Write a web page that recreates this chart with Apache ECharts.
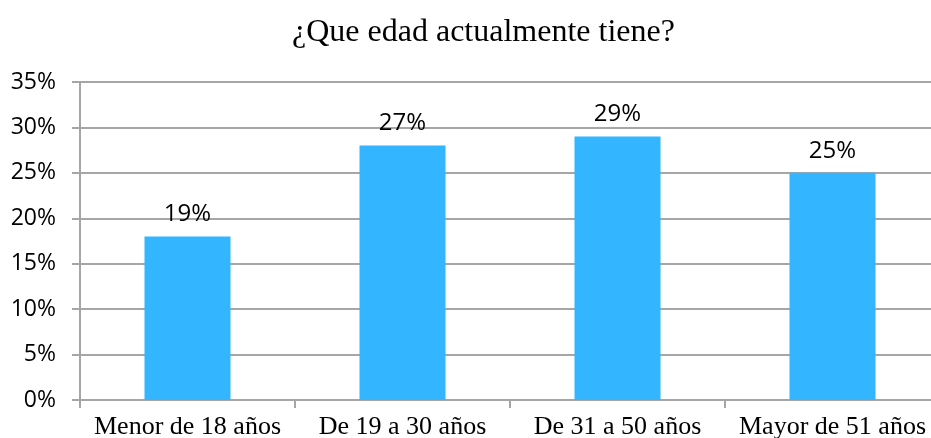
<!DOCTYPE html>
<html>
<head>
<meta charset="utf-8">
<script src="https://cdn.jsdelivr.net/npm/echarts@6/dist/echarts.min.js"></script>
<style>
  html, body { margin: 0; padding: 0; background: #fff; }
  #chart { width: 931px; height: 438px; }
</style>
</head>
<body>
<div id="chart"></div>
<script>
// data
const categories = ["Menor de 18 años", "De 19 a 30 años", "De 31 a 50 años", "Mayor de 51 años"];
const values = [18, 28, 29, 25];
const labels = ["19%", "27%", "29%", "25%"];
const yTicks = [0, 5, 10, 15, 20, 25, 30, 35];

const chart = echarts.init(document.getElementById("chart"));
const grey = "#a6a6a6";

chart.setOption({
  animation: false,
  title: {
    text: "¿Que edad actualmente tiene?",
    left: 287,
    top: 12,
    textStyle: { fontFamily: "Liberation Serif", fontSize: 32, fontWeight: "normal", color: "#000" },
  },
  grid: { left: 80, right: -9, top: 82, bottom: 38, outerBoundsMode: "none", containLabel: false },
  xAxis: {
    type: "category",
    data: categories,
    axisLine: { lineStyle: { color: grey, width: 2 } },
    axisTick: { show: true, length: 8, lineStyle: { color: grey, width: 2 } },
    axisLabel: { interval: 0, fontFamily: "Liberation Serif", fontSize: 26, color: "#000", margin: 14 },
  },
  yAxis: {
    type: "value",
    min: yTicks[0],
    max: yTicks[yTicks.length - 1],
    interval: 5,
    axisLine: { show: true, lineStyle: { color: grey, width: 2 } },
    axisTick: { show: true, length: 8, lineStyle: { color: grey, width: 2 } },
    splitLine: { lineStyle: { color: grey, width: 2 } },
    axisLabel: {
      fontFamily: "Open Sans",
      fontSize: 23,
      color: "#000",
      margin: 24,
      formatter: (v) => v + "%",
    },
  },
  series: [
    {
      type: "bar",
      data: values,
      barWidth: 86,
      itemStyle: { color: "#33b5ff" },
      label: {
        show: true,
        position: "top",
        distance: 10,
        fontFamily: "Open Sans",
        fontSize: 24,
        color: "#000",
        formatter: (p) => labels[p.dataIndex],
      },
    },
  ],
});
</script>
</body>
</html>
